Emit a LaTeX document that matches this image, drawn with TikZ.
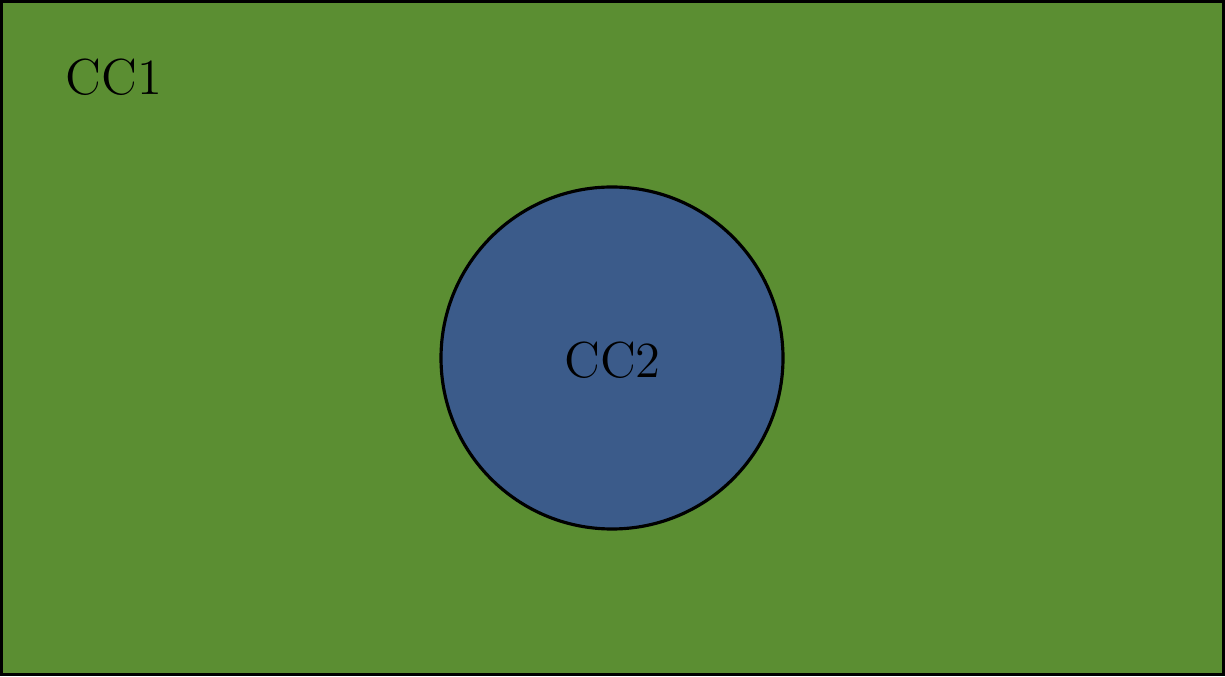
\documentclass[tikz,border=0pt]{standalone}
\definecolor{ccgreen}{RGB}{91,142,50}
\definecolor{ccblue}{RGB}{59,91,138}
\tikzset{
  region/.style={draw=black, line width=0.9pt},
  lbl/.style={font=\fontsize{14.4}{17}\selectfont, inner sep=0pt}
}
\begin{document}
\begin{tikzpicture}
\useasboundingbox (0,0) rectangle (12.25,6.76);
\path[region, fill=ccgreen] (0.015,0.015) rectangle (12.235,6.745);
\node[region, fill=ccblue, circle, minimum size=3.42cm, inner sep=0pt] (cc2) at (6.12,3.18) {};
\node[lbl] (cc2label) at (6.125,3.16) {CC2};
\node[lbl] (cc1label) at (1.14,5.99) {CC1};
\end{tikzpicture}
\end{document}
